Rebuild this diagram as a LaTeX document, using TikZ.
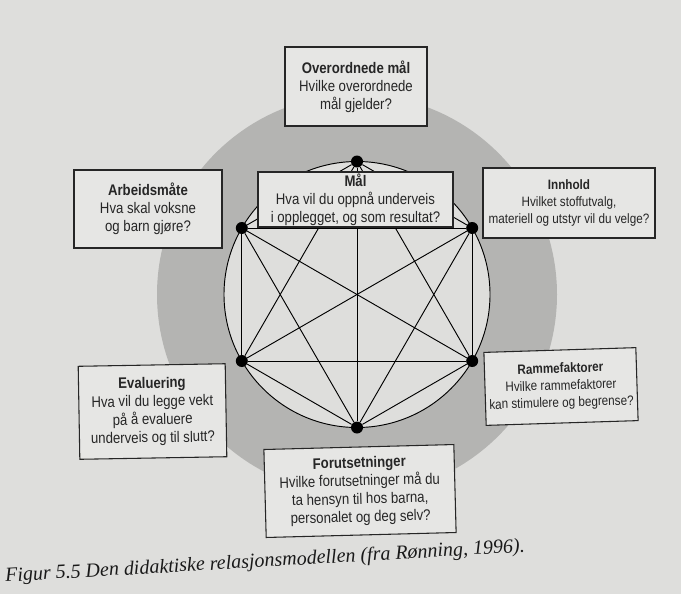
\documentclass[tikz,border=0pt]{standalone}
\usepackage{fontspec}
\usetikzlibrary{calc}
\newfontfamily\boxfont[FakeStretch=0.86]{Liberation Sans}
\newfontfamily\capfont{Liberation Serif}
\definecolor{paper}{HTML}{DEDEDC}
\definecolor{ring}{HTML}{B4B4B2}
\definecolor{boxfill}{HTML}{E6E6E4}
\begin{document}
\begin{tikzpicture}[x=0.75pt,y=-0.75pt,
  qbox/.style={draw=black!85, line width=0.8pt, fill=boxfill, align=center,
    inner sep=0pt, font=\boxfont\fontsize{11.5}{13.6}\selectfont, text=black!85},
  qsmall/.style={qbox, font=\boxfont\fontsize{10.2}{12.8}\selectfont},
  vert/.style={circle, fill=black, inner sep=0pt, minimum size=9pt},
  edge/.style={black, line width=0.7pt}]
\fill[paper] (0,0) rectangle (681,594);
\useasboundingbox (0,0) rectangle (681,594);
\coordinate (C) at (357,294.5);
\fill[ring] (C) circle[radius=150pt];
\filldraw[fill=paper, draw=black, line width=0.7pt] (C) circle[radius=99.75pt];
% vertices
\node[vert] (v1) at ($(C)+(90:99.75pt)$) {};
\node[vert] (v2) at ($(C)+(30:99.75pt)$) {};
\node[vert] (v3) at ($(C)+(-30:99.75pt)$) {};
\node[vert] (v4) at ($(C)+(-90:99.75pt)$) {};
\node[vert] (v5) at ($(C)+(-150:99.75pt)$) {};
\node[vert] (v6) at ($(C)+(150:99.75pt)$) {};
% all connections
\foreach \a/\b in {v1/v2,v1/v3,v1/v4,v1/v5,v1/v6,v2/v3,v2/v4,v2/v5,v2/v6,v3/v4,v3/v5,v3/v6,v4/v5,v4/v6,v5/v6}
  \draw[edge] (\a) -- (\b);
% boxes
\node[qbox, minimum width=106.5pt, minimum height=59.25pt] (over) at (356,86.5)
  {\textbf{Overordnede mål}\\Hvilke overordnede\\mål gjelder?};
\node[qbox, minimum width=146.25pt, minimum height=41.25pt] (mal) at (355.5,199.5)
  {\textbf{Mål}\\Hva vil du oppnå underveis\\i opplegget, og som resultat?};
\node[qsmall, minimum width=129pt, minimum height=52.5pt] (innhold) at (569,203)
  {\textbf{Innhold}\\Hvilket stoffutvalg,\\materiell og utstyr vil du velge?};
\node[qbox, minimum width=111pt, minimum height=58.5pt] (arbeid) at (148,209)
  {\textbf{Arbeidsmåte}\\Hva skal voksne\\og barn gjøre?};
\node[qbox, minimum width=110.25pt, minimum height=69.75pt, rotate=1] (eval) at (152.5,411.5)
  {\textbf{Evaluering}\\Hva vil du legge vekt\\på å evaluere\\underveis og til slutt?};
\node[qsmall, minimum width=114pt, minimum height=54.75pt, rotate=1.8] (ramme) at (561,386.5)
  {\textbf{Rammefaktorer}\\Hvilke rammefaktorer\\kan stimulere og begrense?};
\node[qbox, minimum width=142.5pt, minimum height=66pt, rotate=1.5] (forut) at (360,491)
  {\textbf{Forutsetninger}\\Hvilke forutsetninger må du\\ta hensyn til hos barna,\\personalet og deg selv?};
% caption
\node[font=\capfont\itshape\fontsize{15}{17}\selectfont, rotate=3.3, text=black!90] (cap) at (265,562)
  {Figur 5.5 Den didaktiske relasjonsmodellen (fra Rønning, 1996).};
\end{tikzpicture}
\end{document}
